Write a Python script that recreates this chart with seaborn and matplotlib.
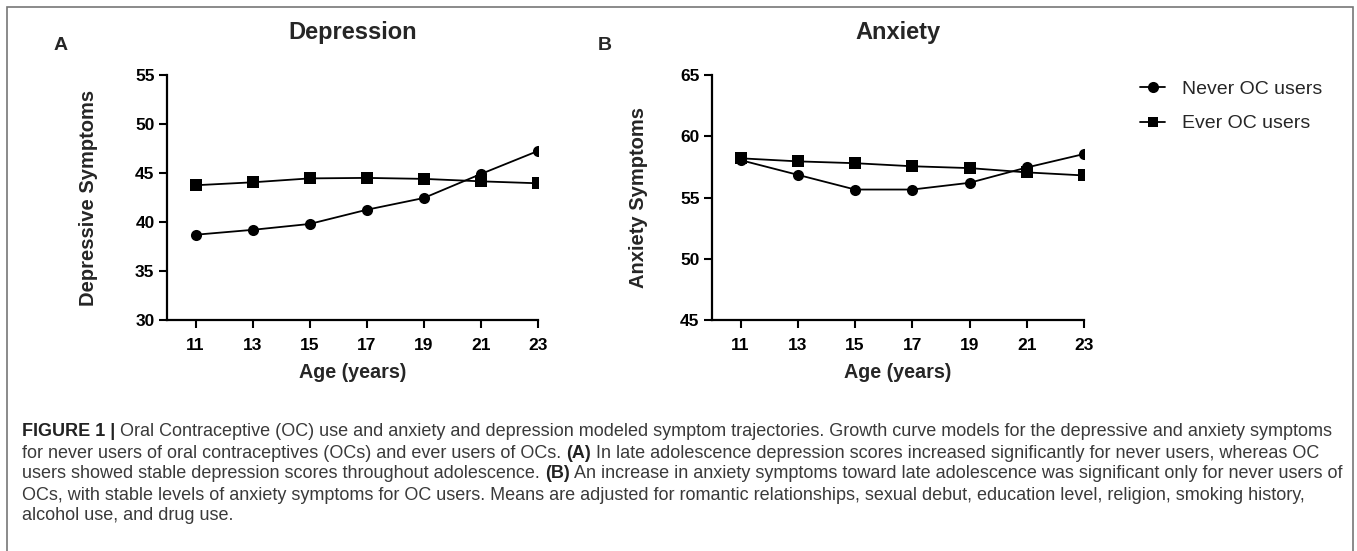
import pandas as pd
import numpy as np
import matplotlib.pyplot as plt
import seaborn as sns
from matplotlib.lines import Line2D
from matplotlib.patches import Rectangle

ages = [11, 13, 15, 17, 19, 21, 23]
groups = ['Never OC users', 'Ever OC users']

dep_never = [38.7, 39.2, 39.8, 41.25, 42.45, 44.9, 47.25]
dep_ever = [43.75, 44.05, 44.45, 44.5, 44.4, 44.15, 43.95]
anx_never = [58.05, 56.85, 55.65, 55.65, 56.2, 57.45, 58.55]
anx_ever = [58.2, 57.95, 57.8, 57.55, 57.4, 57.05, 56.8]

dep_ticks = [30, 35, 40, 45, 50, 55]
anx_ticks = [45, 50, 55, 60, 65]

caption_lines = [
    [('FIGURE 1 |', True), (' Oral Contraceptive (OC) use and anxiety and depression modeled symptom trajectories. Growth curve models for the depressive and anxiety symptoms', False)],
    [('for never users of oral contraceptives (OCs) and ever users of OCs. ', False), ('(A)', True), (' In late adolescence depression scores increased significantly for never users, whereas OC', False)],
    [('users showed stable depression scores throughout adolescence. ', False), ('(B)', True), (' An increase in anxiety symptoms toward late adolescence was significant only for never users of', False)],
    [('OCs, with stable levels of anxiety symptoms for OC users. Means are adjusted for romantic relationships, sexual debut, education level, religion, smoking history,', False)],
    [('alcohol use, and drug use.', False)],
]

sns.set_style('ticks')
plt.rcParams['font.family'] = ['Liberation Sans', 'DejaVu Sans']

W, H = 1357, 551
fig = plt.figure(figsize=(W / 100, H / 100), dpi=100)

def fx(px):
    return px / W

def fy(py):
    return 1 - py / H

top, bottom = 75, 320
ax1 = fig.add_axes([fx(167), fy(bottom), fx(538 - 167), (bottom - top) / H])
ax2 = fig.add_axes([fx(712), fy(bottom), fx(1084 - 712), (bottom - top) / H])

markers = {'Never OC users': 'o', 'Ever OC users': 's'}
palette = {'Never OC users': 'black', 'Ever OC users': 'black'}

panels = [
    (ax1, dep_never, dep_ever, dep_ticks, 'Depression', 'Depressive Symptoms', 89),
    (ax2, anx_never, anx_ever, anx_ticks, 'Anxiety', 'Anxiety Symptoms', 639),
]

for ax, never, ever, yticks, title, ylabel, ylab_x in panels:
    df = pd.DataFrame({
        'age': ages * 2,
        'score': never + ever,
        'group': [groups[0]] * len(ages) + [groups[1]] * len(ages),
    })
    sns.lineplot(data=df, x='age', y='score', hue='group', style='group',
                 markers=markers, dashes=False, palette=palette, ax=ax,
                 linewidth=1.3, markersize=8, markeredgewidth=0, legend=False)
    ax.set_xlim(10, 23)
    ax.set_ylim(yticks[0], yticks[-1])
    ax.set_xticks(ages)
    ax.set_yticks(yticks)
    ax.tick_params(width=1.5, length=6, labelsize=12.5, colors='black')
    ax.tick_params(axis='x', pad=7)
    ax.tick_params(axis='y', pad=3)
    for lab in ax.get_xticklabels() + ax.get_yticklabels():
        lab.set_fontweight('bold')
    for s in ['left', 'bottom']:
        ax.spines[s].set_linewidth(1.6)
        ax.spines[s].set_color('black')
    sns.despine(ax=ax)
    ax_h = bottom - top
    ax_w = ax.get_position().width * W
    ax.set_xlabel('Age (years)', fontsize=14.2, fontweight='bold', va='center')
    ax.xaxis.set_label_coords(0.5, (bottom - 373) / ax_h)
    ax.set_ylabel(ylabel, fontsize=14.5, fontweight='bold', va='center')
    ax.yaxis.set_label_coords((ylab_x - ax.get_position().x0 * W) / ax_w, 0.5)
    ax.set_title(title, fontsize=17, fontweight='bold', va='center', y=(bottom - 33) / ax_h, pad=0)

fig.text(fx(61), fy(45), 'A', fontsize=14, fontweight='bold', ha='center', va='center')
fig.text(fx(605), fy(45), 'B', fontsize=14, fontweight='bold', ha='center', va='center')

handles = [Line2D([], [], color='black', marker=markers[g], markersize=8 if g == groups[0] else 7.5,
                  markeredgewidth=0, linewidth=1.3) for g in groups]
fig.legend(handles, groups, loc='center left', bbox_to_anchor=(fx(1140), fy(106.5)),
           frameon=False, fontsize=14, handlelength=1.3, handletextpad=0.85, labelspacing=0.85,
           borderpad=0, borderaxespad=0)

# frame around the figure
fig.patches.append(Rectangle((fx(7), fy(600)), fx(1353 - 7), (600 - 7) / H, transform=fig.transFigure,
                             fill=False, edgecolor='#777777', linewidth=1.2))

# caption with bold runs
renderer = fig.canvas.get_renderer()
line_y = [432, 453, 474, 495, 516]
for runs, yy in zip(caption_lines, line_y):
    x = 22
    for txt, bold in runs:
        t = fig.text(fx(x), fy(yy), txt, fontsize=13.0, va='center',
                     color='#222222' if bold else '#3a3a3a',
                     fontweight='bold' if bold else 'normal')
        x += t.get_window_extent(renderer).width

fig.savefig('out.png', dpi=100)
